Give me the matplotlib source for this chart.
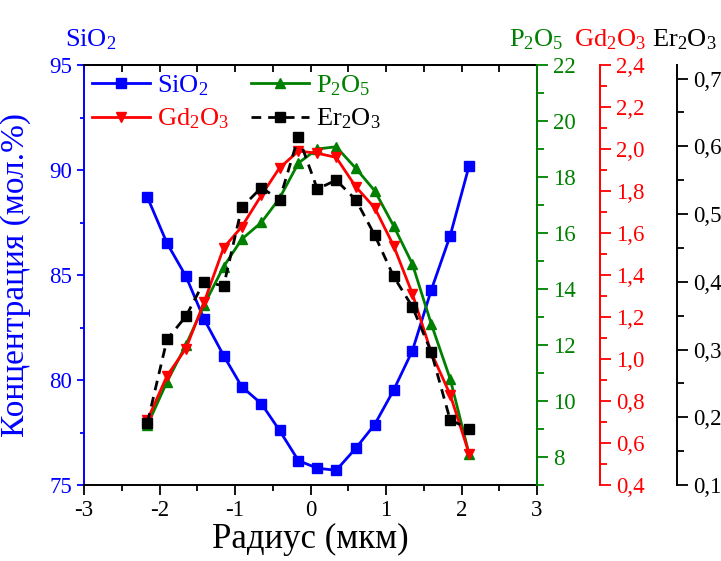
import numpy as np
import matplotlib
matplotlib.use('Agg')
import matplotlib.pyplot as plt
from matplotlib.ticker import MultipleLocator, FuncFormatter

plt.rcParams['font.family'] = ['Liberation Serif', 'DejaVu Serif']
plt.rcParams['mathtext.fontset'] = 'custom'
plt.rcParams['mathtext.rm'] = 'Liberation Serif'
plt.rcParams['axes.unicode_minus'] = False

# radius, um
radius = [-2.16, -1.90, -1.65, -1.41, -1.15, -0.91, -0.65, -0.41, -0.16,
          0.09, 0.34, 0.60, 0.85, 1.10, 1.35, 1.60, 1.85, 2.10]
# concentrations, mol.%
sio2 = [88.70, 86.51, 84.94, 82.90, 81.16, 79.68, 78.87, 77.60, 76.16,
        75.80, 75.70, 76.75, 77.88, 79.51, 81.40, 84.29, 86.87, 90.19]
p2o5 = [9.14, 10.69, 12.00, 13.43, 14.80, 15.78, 16.38, 17.24, 18.50,
        19.00, 19.08, 18.31, 17.51, 16.26, 14.89, 12.75, 10.79, 8.11]
gd2o3 = [0.71, 0.92, 1.05, 1.27, 1.53, 1.63, 1.78, 1.91, 1.99,
         1.98, 1.96, 1.82, 1.72, 1.54, 1.31, 1.03, 0.83, 0.55]
er2o3 = [0.192, 0.315, 0.349, 0.400, 0.394, 0.510, 0.539, 0.521, 0.614,
         0.537, 0.550, 0.521, 0.469, 0.408, 0.363, 0.296, 0.196, 0.183]

BLUE = '#0000ff'
GREEN = '#008000'
RED = '#ff0000'
BLACK = '#000000'
TICK_FS = 16.5

fig = plt.figure(figsize=(7.21, 5.61), dpi=100)
ax = fig.add_axes([84 / 721, 1 - 485 / 561, 453 / 721, 420 / 561])
ax_g = ax.twinx()
ax_r = ax.twinx()
ax_b = ax.twinx()
ax_r.spines['right'].set_position(('axes', (600 - 84) / 453))
ax_b.spines['right'].set_position(('axes', (677 - 84) / 453))

comma = FuncFormatter(lambda v, p: ('%.1f' % v).replace('.', ','))

l1, = ax.plot(radius, sio2, '-s', color=BLUE, lw=2, ms=6.5, label='SiO$\\mathregular{_2}$')
l2, = ax_g.plot(radius, p2o5, '-^', color=GREEN, lw=2, ms=7.5, label='P$\\mathregular{_2}$O$\\mathregular{_5}$')
l3, = ax_r.plot(radius, gd2o3, '-v', color=RED, lw=2, ms=7.5, label='Gd$\\mathregular{_2}$O$\\mathregular{_3}$')
l4, = ax_b.plot(radius, er2o3, 's', ls=(0, (3.5, 2.5)), color=BLACK, lw=2, ms=6.5,
                label='Er$\\mathregular{_2}$O$\\mathregular{_3}$')

# main axes
ax.set_xlim(-3, 3)
ax.set_ylim(75, 95)
ax.xaxis.set_major_locator(MultipleLocator(1))
ax.xaxis.set_minor_locator(MultipleLocator(0.5))
ax.yaxis.set_major_locator(MultipleLocator(5))
ax.yaxis.set_minor_locator(MultipleLocator(2.5))
ax.tick_params(axis='x', which='both', direction='out', labelsize=TICK_FS, width=1.3, top=False)
ax.tick_params(axis='x', which='major', length=7)
ax.tick_params(axis='x', which='minor', length=4)
ax.tick_params(axis='y', which='both', direction='out', colors=BLUE, labelsize=TICK_FS, width=1.3)
ax.tick_params(axis='y', which='major', length=5)
ax.tick_params(axis='y', which='minor', length=3)
ax.spines['left'].set_color(BLUE)
for s in ax.spines.values():
    s.set_linewidth(1.4)
ax.set_xlabel('Радиус (мкм)', fontsize=25, labelpad=2)
ax.set_ylabel('Концентрация (мол.%)', fontsize=24, color=BLUE)
ax.yaxis.set_label_coords(-0.118, 0.5)

# top ticks pointing inward
sec = ax.secondary_xaxis('top')
sec.xaxis.set_major_locator(MultipleLocator(1))
sec.xaxis.set_minor_locator(MultipleLocator(0.5))
sec.tick_params(which='both', direction='in', length=5, width=1.3, labeltop=False)
sec.spines['top'].set_linewidth(1.4)

# P2O5
ax_g.set_ylim(7, 22)
ax_g.yaxis.set_major_locator(MultipleLocator(2))
ax_g.yaxis.set_minor_locator(MultipleLocator(1))
ax_g.tick_params(axis='y', which='both', colors=GREEN, labelsize=TICK_FS, width=1.3)
ax_g.tick_params(axis='y', which='major', length=8)
ax_g.tick_params(axis='y', which='minor', length=5)
ax_g.spines['right'].set_color(GREEN)

# Gd2O3
ax_r.set_ylim(0.4, 2.4)
ax_r.yaxis.set_major_locator(MultipleLocator(0.2))
ax_r.yaxis.set_minor_locator(MultipleLocator(0.1))
ax_r.yaxis.set_major_formatter(comma)
ax_r.tick_params(axis='y', which='both', colors=RED, labelsize=TICK_FS, width=1.3)
ax_r.tick_params(axis='y', which='major', length=8)
ax_r.tick_params(axis='y', which='minor', length=5)
ax_r.spines['right'].set_color(RED)

# Er2O3
ax_b.set_ylim(0.1, 0.72)
ax_b.yaxis.set_major_locator(MultipleLocator(0.1))
ax_b.yaxis.set_minor_locator(MultipleLocator(0.05))
ax_b.yaxis.set_major_formatter(comma)
ax_b.tick_params(axis='y', which='both', colors=BLACK, labelsize=TICK_FS, width=1.3)
ax_b.tick_params(axis='y', which='major', length=8)
ax_b.tick_params(axis='y', which='minor', length=5)

for a in (ax_g, ax_r, ax_b):
    a.spines['right'].set_linewidth(1.4)
    for k in ('left', 'top', 'bottom'):
        a.spines[k].set_visible(False)

# legend filled column-wise: order so rows read SiO2 P2O5 / Gd2O3 Er2O3
leg = ax_b.legend(handles=[l1, l3, l2, l4], ncol=2, loc='upper left',
                  bbox_to_anchor=(0, 1.0), frameon=False, fontsize=19,
                  handlelength=2.2, handletextpad=0.25, columnspacing=0.85,
                  labelspacing=0.35, borderaxespad=0.1, borderpad=0.2)
for t, c in zip(leg.get_texts(), [BLUE, RED, GREEN, BLACK]):
    t.set_color(c)

# axis titles on top
fig.text(65 / 721, 1 - 46 / 561, 'SiO$\\mathregular{_2}$', color=BLUE, fontsize=19, va='baseline')
fig.text(509 / 721, 1 - 46 / 561, 'P$\\mathregular{_2}$O$\\mathregular{_5}$', color=GREEN, fontsize=19, va='baseline')
fig.text(574 / 721, 1 - 46 / 561, 'Gd$\\mathregular{_2}$O$\\mathregular{_3}$', color=RED, fontsize=19, va='baseline')
fig.text(652 / 721, 1 - 46 / 561, 'Er$\\mathregular{_2}$O$\\mathregular{_3}$', color=BLACK, fontsize=19, va='baseline')

fig.savefig('out.png', dpi=100)
